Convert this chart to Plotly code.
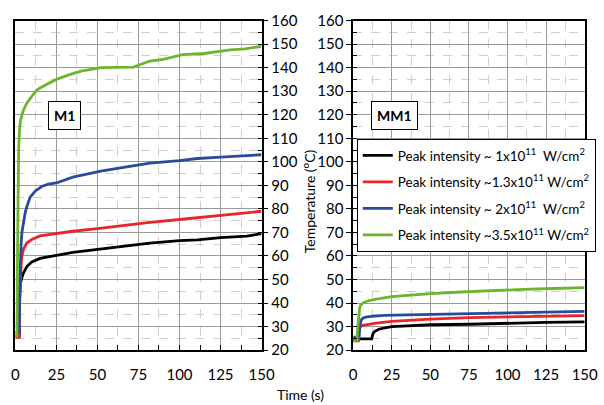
import plotly.graph_objects as go

# ---------------- data ----------------
# Panel M1
m1_black_t = [0, 2.4, 2.6, 3, 4, 5, 7, 10, 15, 20, 25, 35, 50, 65, 82, 100, 111, 125, 141, 150]
m1_black_v = [26, 26, 42, 48, 51, 53, 55.5, 57.5, 59, 59.8, 60.3, 61.5, 62.7, 64, 65.5, 66.5, 66.8, 67.8, 68.4, 69.5]

m1_red_t = [0, 2.4, 2.6, 3, 3.5, 4, 5, 7, 10, 15, 20, 25, 35, 50, 65, 82, 100, 111, 125, 141, 150]
m1_red_v = [25.5, 25.5, 40, 52, 57, 60, 63, 65.5, 67, 68.5, 69, 69.5, 70.5, 71.6, 73, 74.3, 75.5, 76.3, 77.3, 78.3, 79]

m1_blue_t = [0, 2.4, 2.6, 3, 3.5, 4, 5, 6, 7, 9, 12, 16, 20, 25, 35, 52, 65, 82, 100, 111, 125, 141, 150]
m1_blue_v = [27.5, 27.5, 45, 58, 65, 70, 75, 78.5, 81, 85, 87.5, 89.5, 90.5, 91, 93.5, 96, 97.5, 99.4, 100.5, 101.4, 102, 102.6, 103]

m1_green_t = [0, 1.0, 1.3, 1.6, 2, 2.5, 3, 4, 5, 7, 10, 13, 18, 25, 33, 40, 52, 60, 72, 82, 90, 102, 115, 131, 140, 150]
m1_green_v = [26, 26, 60, 90, 105, 113, 117, 120, 122, 125, 128, 130.5, 132.5, 135, 137, 138.5, 140, 140, 140.2, 142.8, 143.5, 145.5, 146, 147.5, 148, 149]

# Panel MM1
mm1_black_t = [0, 12, 12.8, 14, 17, 20, 25, 35, 50, 75, 100, 125, 150]
mm1_black_v = [24.8, 24.8, 27, 28, 29, 29.5, 30, 30.3, 30.8, 31, 31.5, 31.8, 32]

mm1_red_t = [0, 3.4, 3.8, 4.5, 6, 10, 15, 25, 50, 75, 100, 125, 150]
mm1_red_v = [24, 24, 28.5, 30, 30.5, 31, 31.5, 32.2, 33.2, 33.8, 34.2, 34.5, 34.7]

mm1_blue_t = [0, 3.8, 4.3, 5, 6, 8, 12, 20, 35, 50, 75, 100, 125, 150]
mm1_blue_v = [25.5, 25.5, 30, 32.5, 33.5, 34, 34.4, 34.8, 35, 35.2, 35.5, 35.9, 36.2, 36.5]

mm1_green_t = [0, 2.4, 3, 3.5, 4.2, 5, 7, 10, 15, 25, 35, 50, 70, 88, 110, 130, 150]
mm1_green_v = [24, 24, 30, 35, 38, 39.3, 40.3, 41, 41.7, 42.7, 43.3, 44, 44.7, 45.3, 45.8, 46.2, 46.6]

series_names = [
    "Peak intensity ~ 1x10<sup>11</sup>\u00a0\u00a0W/cm<sup>2</sup>",
    "Peak intensity ~1.3x10<sup>11</sup> W/cm<sup>2</sup>",
    "Peak intensity ~ 2x10<sup>11</sup>\u00a0\u00a0W/cm<sup>2</sup>",
    "Peak intensity ~3.5x10<sup>11</sup> W/cm<sup>2</sup>",
]
colors = ["#000000", "#e8262a", "#2a4a9c", "#6cb52d"]

x_ticks = [0, 25, 50, 75, 100, 125, 150]
y_ticks = [20, 30, 40, 50, 60, 70, 80, 90, 100, 110, 120, 130, 140, 150, 160]

FONT = "Lato, 'Open Sans', sans-serif"

m1 = [(m1_black_t, m1_black_v), (m1_red_t, m1_red_v), (m1_blue_t, m1_blue_v), (m1_green_t, m1_green_v)]
mm1 = [(mm1_black_t, mm1_black_v), (mm1_red_t, mm1_red_v), (mm1_blue_t, mm1_blue_v), (mm1_green_t, mm1_green_v)]

fig = go.Figure()
for i, (t, v) in enumerate(m1):
    fig.add_trace(go.Scatter(x=t, y=v, mode="lines", line=dict(color=colors[i], width=2.8),
                             showlegend=False, xaxis="x", yaxis="y"))
for i, (t, v) in enumerate(mm1):
    fig.add_trace(go.Scatter(x=t, y=v, mode="lines", line=dict(color=colors[i], width=2.8),
                             name=series_names[i], legendgroup=f"g{i}", showlegend=True,
                             xaxis="x2", yaxis="y2"))

W, H = 604, 405
ydom = [1 - 356 / H, 1 - 11 / H]

common_x = dict(range=[0, 150], tickvals=x_ticks, ticks="inside", ticklen=5, tickcolor="black",
                showline=True, linecolor="black", linewidth=1.5, mirror=True,
                showgrid=True, gridcolor="#9a9a9a", gridwidth=1, zeroline=False,
                ticklabelstandoff=10,
                tickfont=dict(size=15, color="black", family=FONT),
                minor=dict(dtick=12.5, tick0=0, showgrid=True, griddash="dash", gridcolor="#cfcfcf",
                           ticks="inside", ticklen=5, tickcolor="black"))
common_y = dict(range=[20, 160], tickvals=y_ticks, ticks="outside", ticklen=5, tickcolor="black",
                showline=True, linecolor="black", linewidth=1.5, mirror=True,
                showgrid=True, gridcolor="#9a9a9a", gridwidth=1, zeroline=False,
                tickfont=dict(size=15, color="black", family=FONT),
                minor=dict(dtick=5, tick0=0, showgrid=True, griddash="dash", gridcolor="#cfcfcf",
                           ticks="inside", ticklen=4, tickcolor="black"))

fig.update_layout(
    width=W, height=H, margin=dict(l=0, r=0, t=0, b=0),
    paper_bgcolor="white", plot_bgcolor="white",
    font=dict(family=FONT, color="black"),
    xaxis=dict(domain=[11.7 / W, 265 / W], anchor="y", **common_x),
    yaxis=dict(domain=ydom, anchor="x", side="right", **common_y),
    xaxis2=dict(domain=[359.3 / W, 597.5 / W], anchor="y2", **common_x),
    yaxis2=dict(domain=ydom, anchor="x2", side="left", **common_y),
    legend=dict(x=363 / W, y=1 - 135 / H, xanchor="left", yanchor="top",
                bgcolor="white", bordercolor="black", borderwidth=1,
                font=dict(size=13.5, family=FONT, color="black"), tracegroupgap=6),
    showlegend=True,
)

ann_font = dict(size=14, family=FONT, color="black")
fig.add_annotation(x=62 / W, y=1 - 110.5 / H, xref="paper", yref="paper", text="<b>M1</b>",
                   xanchor="center", yanchor="middle",
                   showarrow=False, font=ann_font,
                   bgcolor="white", bordercolor="black", borderwidth=1, borderpad=5)
fig.add_annotation(x=401.5 / W, y=1 - 110.5 / H, xref="paper", yref="paper", text="<b>MM1</b>",
                   xanchor="center", yanchor="middle",
                   showarrow=False, font=ann_font,
                   bgcolor="white", bordercolor="black", borderwidth=1, borderpad=5)
fig.add_annotation(x=305 / W, y=1 - 402 / H, xref="paper", yref="paper", text="Time (s)",
                   xanchor="center", yanchor="middle",
                   showarrow=False, font=ann_font)
fig.add_annotation(x=313 / W, y=1 - 200 / H, xref="paper", yref="paper",
                   text="Temperature (<sup>o</sup>C)", textangle=-90,
                   xanchor="center", yanchor="middle",
                   showarrow=False, font=ann_font)

fig.write_html("out.html")
